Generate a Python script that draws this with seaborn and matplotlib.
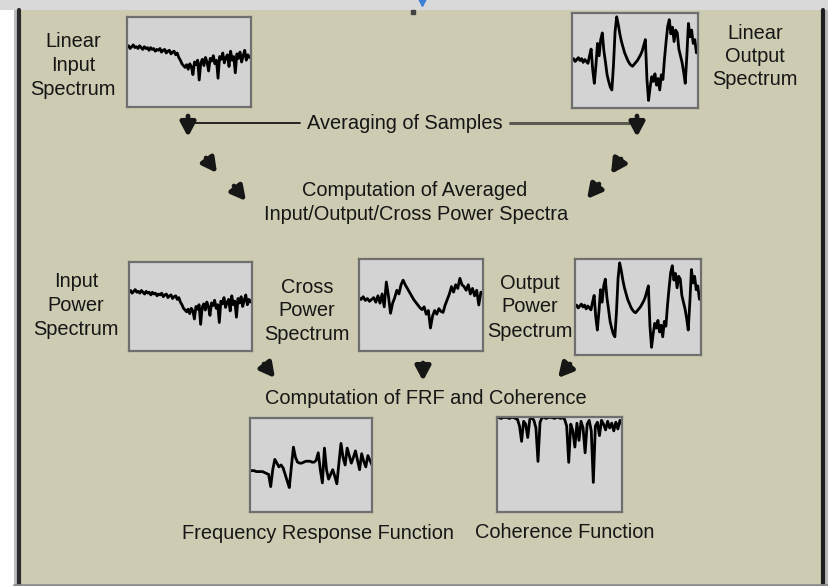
import numpy as np
import pandas as pd
import matplotlib
matplotlib.use("Agg")
import matplotlib.pyplot as plt
from matplotlib.patches import Rectangle
import seaborn as sns

# ---- spectrum traces (relative amplitude, 0 = bottom, 1 = top of panel) ----
input_spectrum = [
    0.66, 0.68, 0.65, 0.67, 0.69, 0.66, 0.67, 0.65, 0.68, 0.66,
    0.64, 0.67, 0.65, 0.66, 0.63, 0.66, 0.64, 0.65, 0.62, 0.64,
    0.63, 0.65, 0.61, 0.63, 0.64, 0.60, 0.62, 0.63, 0.59, 0.61,
    0.62, 0.58, 0.60, 0.55, 0.52, 0.48, 0.46, 0.44, 0.47, 0.42,
    0.48, 0.45, 0.36, 0.50, 0.47, 0.52, 0.30, 0.49, 0.53, 0.46,
    0.55, 0.50, 0.40, 0.54, 0.51, 0.57, 0.48, 0.52, 0.32, 0.56,
    0.53, 0.60, 0.49, 0.55, 0.58, 0.45, 0.62, 0.52, 0.56, 0.38,
    0.59, 0.54, 0.61, 0.50, 0.57, 0.63, 0.52, 0.58, 0.55, 0.57,
]

output_spectrum = [
    0.50, 0.52, 0.49, 0.51, 0.53, 0.50, 0.52, 0.48, 0.51, 0.49,
    0.47, 0.55, 0.62, 0.40, 0.26, 0.45, 0.68, 0.55, 0.72, 0.79,
    0.60, 0.48, 0.35, 0.28, 0.22, 0.19, 0.45, 0.80, 0.96, 0.88,
    0.78, 0.70, 0.64, 0.58, 0.54, 0.50, 0.47, 0.45, 0.44, 0.46,
    0.48, 0.50, 0.53, 0.56, 0.60, 0.66, 0.72, 0.30, 0.08, 0.22,
    0.33, 0.28, 0.36, 0.24, 0.31, 0.19, 0.35, 0.30, 0.52, 0.70,
    0.86, 0.93, 0.78, 0.85, 0.70, 0.82, 0.79, 0.62, 0.55, 0.48,
    0.38, 0.26, 0.55, 0.89, 0.75, 0.82, 0.68, 0.72, 0.58, 0.60,
]

cross_spectrum = [
    0.58, 0.56, 0.59, 0.55, 0.57, 0.54, 0.56, 0.58, 0.53, 0.60,
    0.52, 0.62, 0.48, 0.75, 0.60, 0.41, 0.52, 0.58, 0.66, 0.62,
    0.72, 0.77, 0.72, 0.68, 0.64, 0.60, 0.56, 0.53, 0.50, 0.47,
    0.45, 0.48, 0.40, 0.44, 0.25, 0.38, 0.44, 0.40, 0.46, 0.43,
    0.42, 0.50, 0.56, 0.62, 0.70, 0.64, 0.72, 0.68, 0.79, 0.72,
    0.70, 0.66, 0.72, 0.62, 0.68, 0.60, 0.66, 0.50, 0.64, 0.62,
]

frf = [
    0.44, 0.44, 0.44, 0.43, 0.43, 0.43, 0.43, 0.42, 0.41, 0.40,
    0.27, 0.45, 0.56, 0.52, 0.48, 0.50, 0.47, 0.40, 0.33, 0.26,
    0.48, 0.69, 0.58, 0.53, 0.52, 0.52, 0.53, 0.54, 0.54, 0.54,
    0.53, 0.53, 0.55, 0.63, 0.45, 0.31, 0.68, 0.45, 0.35, 0.40,
    0.45, 0.38, 0.30, 0.52, 0.73, 0.58, 0.50, 0.68, 0.60, 0.52,
    0.58, 0.65, 0.55, 0.45, 0.62, 0.54, 0.48, 0.60, 0.55, 0.50,
]

coherence = [
    0.99, 0.99, 0.98, 0.99, 0.99, 0.99, 0.98, 0.99, 0.99, 0.98,
    0.97, 0.90, 0.74, 0.95, 0.92, 0.78, 0.97, 0.99, 0.96, 0.88,
    0.53, 0.94, 0.99, 0.99, 0.98, 0.99, 0.99, 0.99, 0.98, 0.99,
    0.99, 0.98, 0.99, 0.97, 0.90, 0.52, 0.92, 0.85, 0.68, 0.93,
    0.75, 0.95, 0.88, 0.62, 0.92, 0.96, 0.85, 0.31, 0.90, 0.94,
    0.80, 0.96, 0.92, 0.86, 0.95, 0.88, 0.93, 0.85, 0.94, 0.87,
    0.96, 0.92,
]

# ---- layout of the flow diagram (pixel coordinates, origin top-left) ----
W, H = 829, 586
BG = "#cdcbb1"
PANEL_FACE = "#d3d3d3"
PANEL_EDGE = "#6f6f6f"
INK = "#161616"

sns.set_theme(style="white")
plt.rcParams["font.family"] = ["Liberation Sans", "DejaVu Sans"]

fig = plt.figure(figsize=(W / 100, H / 100), dpi=100)
base = fig.add_axes([0, 0, 1, 1])
base.set_xlim(0, W)
base.set_ylim(H, 0)
base.axis("off")

# frame and surroundings
base.add_patch(Rectangle((0, 0), W, H, facecolor="#ffffff", edgecolor="none", zorder=0))
base.add_patch(Rectangle((0, 0), W, 10, facecolor="#d9d9d9", edgecolor="none", zorder=0))
base.add_patch(Rectangle((14, 10), 810, 574, facecolor=BG, edgecolor="none", zorder=0))
base.add_patch(Rectangle((824, 10), 5, 576, facecolor="#b9b9b9", edgecolor="none", zorder=0))
base.add_patch(Rectangle((14, 10), 4, 576, facecolor="#bdbdbd", edgecolor="none", zorder=0))
base.plot([19.5, 19.5], [10, 584], color="#2b2b2b", lw=3, zorder=1)
base.plot([823, 823], [10, 584], color="#1e1e1e", lw=3, zorder=1)
base.plot([14, 829], [584.5, 584.5], color="#8a8a8a", lw=2, zorder=1)
base.plot([422], [1.5], marker="v", color="#3d7fd6", ms=6, zorder=2)
base.plot([413], [12], marker="s", color="#444444", ms=2.5, zorder=2)


def label(x, y, text):
    base.text(x, y + 7, text, ha="center", va="baseline", fontsize=14.4,
              color=INK, zorder=3)


def stacked(x, ys, lines):
    for y, t in zip(ys, lines):
        label(x, y, t)


def panel(box, values, ylim=(0, 1)):
    x0, y0, x1, y1 = box
    ax = fig.add_axes([x0 / W, 1 - y1 / H, (x1 - x0) / W, (y1 - y0) / H])
    df = pd.DataFrame({"bin": np.arange(len(values)), "amp": values})
    sns.lineplot(data=df, x="bin", y="amp", ax=ax, color="black", lw=2.0)
    ax.set_xlim(0, len(values) - 1)
    ax.set_ylim(*ylim)
    ax.set_facecolor(PANEL_FACE)
    ax.set_xticks([])
    ax.set_yticks([])
    ax.set_xlabel("")
    ax.set_ylabel("")
    for s in ax.spines.values():
        s.set_visible(True)
        s.set_color(PANEL_EDGE)
        s.set_linewidth(1.6)
    return ax


def arrow(x0, y0, x1, y1):
    base.annotate("", xy=(x1, y1), xytext=(x0, y0),
                  arrowprops=dict(arrowstyle="-|>,head_length=0.6,head_width=0.32",
                                  lw=3.4, color=INK, shrinkA=0, shrinkB=0,
                                  mutation_scale=14), zorder=3)


# top row: linear spectra
panel((127, 17, 251, 107), input_spectrum)
panel((572, 13, 698, 108), output_spectrum)
stacked(73, [40, 64, 88], ["Linear", "Input", "Spectrum"])
stacked(755, [32, 55, 78], ["Linear", "Output", "Spectrum"])

# averaging step
base.plot([188, 300], [123, 123], color=INK, lw=1.3, zorder=2)
base.plot([510, 637], [123, 123], color="#5a5a50", lw=2.2, zorder=2)
arrow(188, 116, 188, 137)
arrow(637, 116, 637, 137)
label(405, 122, "Averaging of Samples")

arrow(206, 158, 217, 173)
arrow(234, 186, 246, 201)
arrow(621, 159, 611, 174)
arrow(599, 184, 587, 199)
label(415, 189, "Computation of Averaged")
label(416, 213, "Input/Output/Cross Power Spectra")

# middle row: power spectra
panel((129, 262, 252, 351), input_spectrum)
panel((359, 259, 483, 351), cross_spectrum)
panel((575, 259, 701, 355), output_spectrum)
stacked(76, [280, 304, 328], ["Input", "Power", "Spectrum"])
stacked(307, [286, 309, 333], ["Cross", "Power", "Spectrum"])
stacked(530, [282, 305, 330], ["Output", "Power", "Spectrum"])

arrow(264, 364, 275, 378)
arrow(423, 363, 423, 381)
arrow(570, 364, 558, 378)
label(426, 397, "Computation of FRF and Coherence")

# bottom row: FRF and coherence (coherence sits at the top edge when close to 1)
panel((250, 418, 372, 512), frf)
panel((497, 417, 622, 512), coherence, ylim=(0, 0.995))
label(318, 532, "Frequency Response Function")
label(565, 531, "Coherence Function")

fig.savefig("out.png", dpi=100)
